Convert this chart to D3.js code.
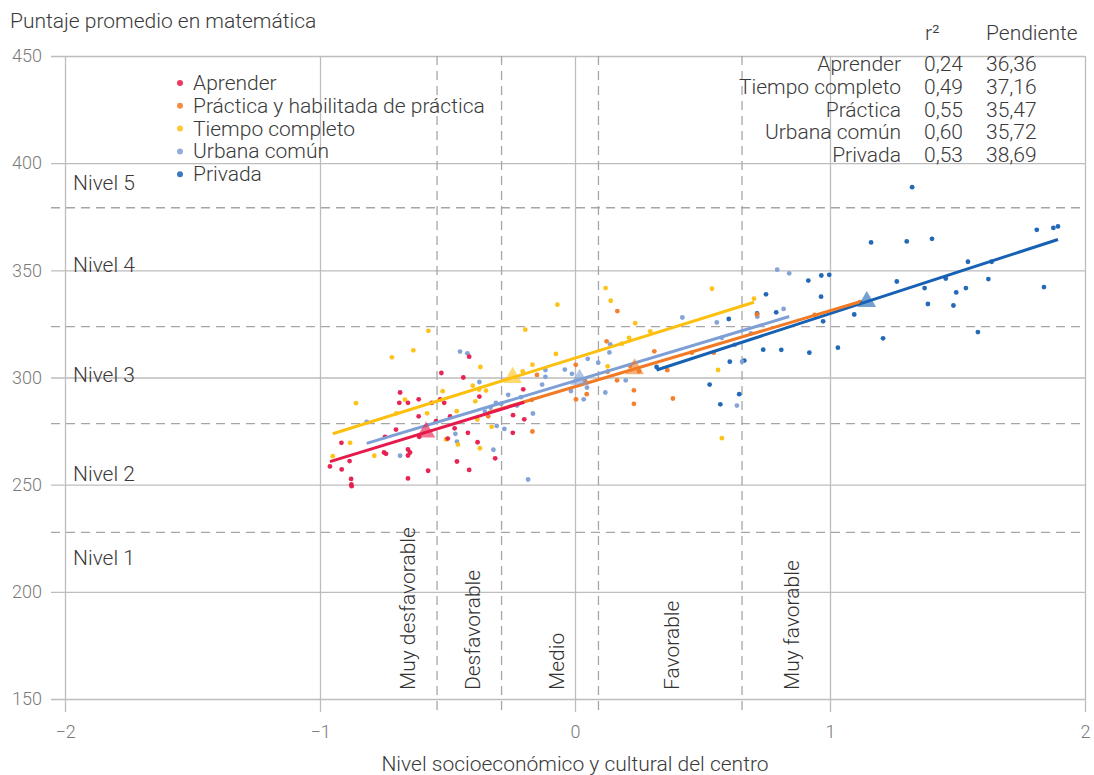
<!DOCTYPE html>
<html><head><meta charset="utf-8">
<script src="https://cdn.jsdelivr.net/npm/d3@7"></script>
<style>
body{margin:0;background:#fff;}
svg text{font-family:Roboto,"Noto Sans",sans-serif;font-weight:300;}
</style></head>
<body><svg id="c" width="1094" height="775"></svg>
<script>
// ---------- data ----------
const categories = ["Aprender","Práctica y habilitada de práctica","Tiempo completo","Urbana común","Privada"];
const colors = ["#e6194b","#f27a24","#fdc010","#7d9fd6","#1661b3"];
const slopeByCategory = [36.36,35.47,37.16,35.72,38.69];

const aprender = [[-0.524,302.1],[-0.686,293.0],[-0.689,288.2],[-0.655,288.2],[-0.613,289.8],[-0.562,288.2],[-0.529,289.8],[-0.513,288.2],[-0.613,281.9],[-0.545,279.6],[-0.702,275.7],[-0.745,272.3],[-0.611,272.3],[-0.916,269.5],[-0.499,271.5],[-0.655,266.4],[-0.647,265.0],[-0.749,265.0],[-0.741,264.4],[-0.655,263.6],[-0.884,261.0],[-0.961,258.5],[-0.915,257.1],[-0.576,256.5],[-0.655,252.9],[-0.878,252.7],[-0.877,250.1],[-0.876,249.3],[-0.415,309.7],[-0.438,300.0],[-0.375,291.1],[-0.203,294.5],[-0.490,281.8],[-0.243,282.4],[-0.199,280.5],[-0.472,276.3],[-0.420,274.2],[-0.244,274.2],[-0.382,269.8],[-0.313,262.3],[-0.463,260.8],[-0.415,256.9]];
const practica = [[-0.149,301.2],[-0.340,281.9],[-0.169,289.6],[-0.167,274.8],[0.166,331.0],[0.124,316.9],[0.311,312.2],[0.003,305.9],[0.216,305.5],[0.251,302.9],[0.128,302.7],[0.165,298.7],[0.362,303.4],[0.040,298.4],[0.046,292.2],[0.004,289.8],[0.231,294.0],[0.231,287.7],[0.384,290.2],[0.940,329.2],[0.458,311.6],[0.544,311.6],[0.714,329.4],[1.118,335.2]];
const tiempo = [[-0.575,321.8],[-0.718,309.4],[-0.634,312.7],[-0.859,288.0],[-0.667,289.7],[-0.701,283.3],[-0.580,283.3],[-0.519,293.6],[-0.882,269.5],[-0.950,263.3],[-0.787,263.5],[-0.506,271.1],[-0.069,334.0],[-0.195,322.3],[-0.371,304.9],[-0.075,311.0],[-0.167,306.0],[-0.205,302.9],[-0.401,296.2],[-0.376,294.4],[-0.349,293.9],[-0.391,288.9],[-0.464,284.3],[-0.383,280.4],[-0.327,277.0],[-0.459,268.7],[-0.373,267.0],[0.120,341.7],[0.140,335.8],[0.236,325.3],[0.295,321.5],[0.212,318.5],[0.184,315.8],[0.128,305.2],[0.537,341.4],[0.702,336.8],[0.561,303.5],[0.576,271.7]];
const urbana = [[-0.817,279.3],[-0.686,263.5],[-0.451,312.1],[-0.422,311.3],[-0.375,297.9],[-0.310,288.2],[-0.331,286.0],[-0.353,284.1],[-0.262,291.9],[-0.212,290.8],[-0.227,286.9],[-0.129,296.7],[-0.116,300.3],[-0.040,303.7],[-0.165,283.2],[-0.307,277.4],[-0.277,276.0],[-0.469,273.7],[-0.463,270.1],[-0.320,266.3],[-0.184,252.4],[0.421,328.0],[0.138,315.5],[0.135,311.7],[0.050,308.7],[0.091,306.9],[-0.012,301.7],[0.199,298.7],[0.047,295.3],[-0.016,293.7],[0.119,293.0],[0.034,289.8],[0.556,325.7],[0.793,350.3],[0.840,348.6],[0.818,332.0],[0.715,328.4],[0.690,320.6],[0.576,318.5],[0.626,315.2],[0.655,307.4],[0.635,286.9],[-0.116,303.5],[-0.289,287.7]];
const privada = [[0.320,304.9],[0.528,296.7],[0.570,287.5],[0.644,292.2],[0.607,307.4],[0.664,307.9],[0.603,327.3],[0.714,329.9],[0.749,338.8],[0.789,330.4],[0.738,313.0],[0.809,312.9],[0.915,345.2],[0.966,347.6],[0.997,347.9],[0.965,337.7],[0.973,326.2],[0.919,311.6],[1.031,313.9],[1.322,388.8],[1.161,363.0],[1.301,363.5],[1.400,364.7],[1.811,368.9],[1.876,369.8],[1.894,370.5],[1.541,354.0],[1.634,354.0],[1.262,344.8],[1.454,346.2],[1.621,345.9],[1.371,341.7],[1.533,341.7],[1.495,339.7],[1.839,342.2],[1.384,334.3],[1.484,333.6],[1.095,329.4],[1.580,321.2],[1.208,318.3]];
const seriesValues = [aprender, practica, tiempo, urbana, privada];

const tableNames = ["Aprender","Tiempo completo","Práctica","Urbana común","Privada"];
const tableR2 = [0.24,0.49,0.55,0.60,0.53];
const tableSlope = [36.36,37.16,35.47,35.72,38.69];

const yTicks = [150,200,250,300,350,400,450];
const xTicks = [-2,-1,0,1,2];
const levelCuts = [227.7,278.5,323.7,379.2];
const levelLabels = ["Nivel 1","Nivel 2","Nivel 3","Nivel 4","Nivel 5"];
const levelLabelAt = [212.3,251.5,298.1,349.3,387.6];
const nseCuts = [-0.541,-0.288,0.092,0.655];
const nseLabels = ["Muy desfavorable","Desfavorable","Medio","Favorable","Muy favorable"];
const nseLabelAt = [-0.659,-0.404,-0.071,0.38,0.847];

// ---------- chart ----------
const svg = d3.select("#c");
const L = 65, R = 1085, T = 56, B = 699;
const x = d3.scaleLinear().domain([-2,2]).range([L,R]);
const y = d3.scaleLinear().domain([150,450]).range([B,T]);
const fmt = v => d3.format(".2f")(v).replace(".", ",");
const txt = "#3a3a3a";

// y axis with grid
const ya = svg.append("g").attr("transform",`translate(${R},0)`)
  .call(d3.axisLeft(y).tickValues(yTicks).tickSize(R-51).tickPadding(9));
ya.select(".domain").remove();
ya.selectAll("line").attr("stroke","#bdbdbd").attr("stroke-width",1.3);
ya.selectAll("text").attr("fill","#7a7a7a").style("font-size","18px").style("font-family","Roboto");

// x axis with grid
const xa = svg.append("g").attr("transform",`translate(0,${T})`)
  .call(d3.axisBottom(x).tickValues(xTicks).tickSize(712-T).tickPadding(13).tickFormat(d3.format("d")));
xa.select(".domain").remove();
xa.selectAll("line").attr("stroke","#bdbdbd").attr("stroke-width",1.3);
xa.selectAll("text").attr("fill","#7a7a7a").style("font-size","18px").style("font-family","Roboto");

// dashed cut lines
svg.append("g").selectAll("line").data(levelCuts).join("line")
  .attr("x1",51).attr("x2",R).attr("y1",d=>y(d)).attr("y2",d=>y(d))
  .attr("stroke","#a6a6a6").attr("stroke-width",1.3).attr("stroke-dasharray","9,6");
svg.append("g").selectAll("line").data(nseCuts).join("line")
  .attr("y1",T).attr("y2",712).attr("x1",d=>x(d)).attr("x2",d=>x(d))
  .attr("stroke","#a6a6a6").attr("stroke-width",1.3).attr("stroke-dasharray","9,6");

// level labels
svg.append("g").selectAll("text").data(levelLabels).join("text")
  .attr("x",73).attr("y",(d,i)=>y(levelLabelAt[i]))
  .attr("fill",txt).style("font-size","21px").text(d=>d);

// NSE labels (vertical)
svg.append("g").selectAll("text").data(nseLabels).join("text")
  .attr("transform",(d,i)=>`translate(${x(nseLabelAt[i])},690) rotate(-90)`)
  .attr("dy","0.36em").attr("fill","#333").style("font-size","21px").text(d=>d);

// points
const order = [4,3,1,2,0];
order.forEach(i=>{
  svg.append("g").selectAll("circle").data(seriesValues[i]).join("circle")
    .attr("cx",d=>x(d[0])).attr("cy",d=>y(d[1])).attr("r",2.4)
    .attr("fill",colors[i]).attr("fill-opacity",0.95);
});

// regression lines through means with table slopes
const stats = seriesValues.map((s,i)=>{
  const mx = d3.mean(s,d=>d[0]), my = d3.mean(s,d=>d[1]);
  const [x0,x1] = d3.extent(s,d=>d[0]);
  const b = slopeByCategory[i];
  return {mx,my,pts:[[x0,my+b*(x0-mx)],[x1,my+b*(x1-mx)]]};
});
const line = d3.line().x(d=>x(d[0])).y(d=>y(d[1]));
[4,1,3,2,0].forEach(i=>{
  svg.append("path").attr("d",line(stats[i].pts)).attr("stroke",colors[i])
    .attr("stroke-width",3).attr("fill","none");
});
// mean triangles
[4,1,3,2,0].forEach(i=>{
  svg.append("path").attr("d",d3.symbol(d3.symbolTriangle,150)())
    .attr("transform",`translate(${x(stats[i].mx)},${y(stats[i].my)})`)
    .attr("fill",colors[i]).attr("fill-opacity",0.6);
});

// legend
const lg = svg.append("g");
categories.forEach((c,i)=>{
  const yy = 83 + i*22.8;
  lg.append("circle").attr("cx",180).attr("cy",yy).attr("r",3).attr("fill",colors[i]).attr("fill-opacity",0.85);
  lg.append("text").attr("x",193).attr("y",yy+7).attr("fill",txt).style("font-size","21px").text(c);
});

// stats table
const tb = svg.append("g").style("font-size","21px").attr("fill",txt);
tb.append("text").attr("x",925).attr("y",40).text("r²");
tb.append("text").attr("x",986).attr("y",40).text("Pendiente");
tableNames.forEach((n,i)=>{
  const yy = 71 + i*22.8;
  tb.append("text").attr("x",901).attr("y",yy).attr("text-anchor","end").text(n);
  tb.append("text").attr("x",924).attr("y",yy).text(fmt(tableR2[i]));
  tb.append("text").attr("x",986).attr("y",yy).text(fmt(tableSlope[i]));
});

// titles
svg.append("text").attr("x",10).attr("y",28).attr("fill",txt).style("font-size","21px").text("Puntaje promedio en matemática");
svg.append("text").attr("x",575).attr("y",771).attr("text-anchor","middle").attr("fill",txt).style("font-size","21px").text("Nivel socioeconómico y cultural del centro");
</script></body></html>
